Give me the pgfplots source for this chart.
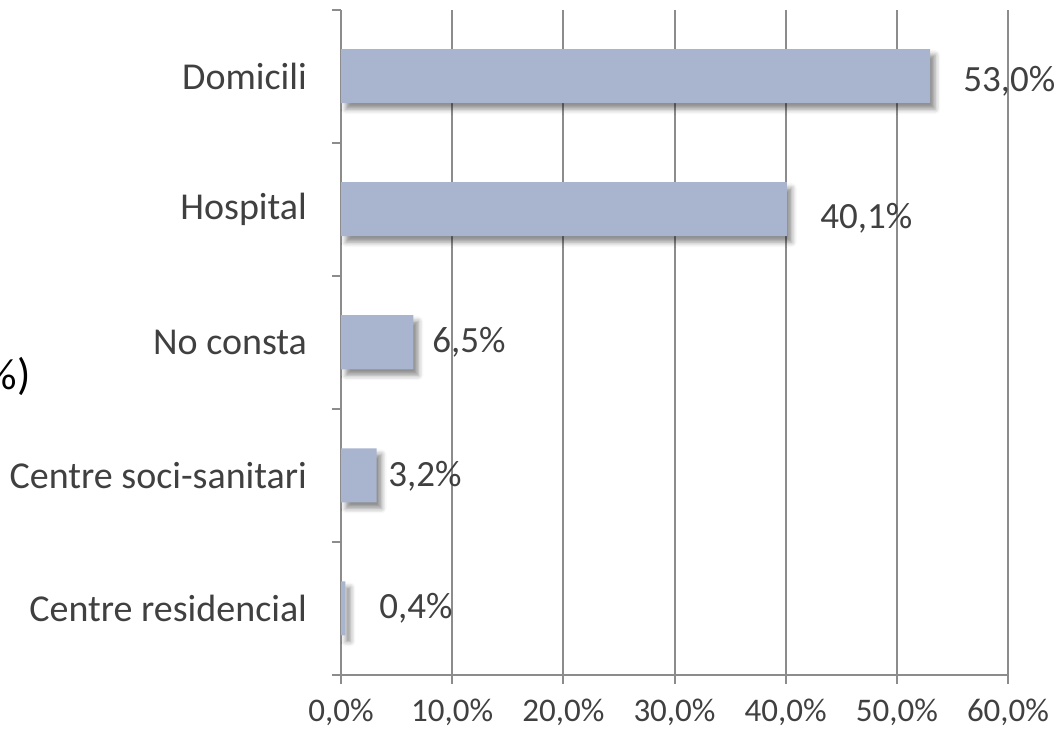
\documentclass[border=0pt]{standalone}
\usepackage{fontspec}
\setmainfont{Carlito}
\usepackage{pgfplots}
\pgfplotsset{compat=1.18}
\usepackage{pgfplotstable}
\usetikzlibrary{shadows.blur}
\definecolor{barcol}{HTML}{A9B4CE}
\definecolor{gridgrey}{HTML}{8C8C8C}
\definecolor{txt}{HTML}{404040}

\pgfplotstableread{
y val lx ly label
0 0.4 3.42 0.0 0,4\%
1 3.2 4.23 0.996 3,2\%
2 6.5 8.19 2.0 6,5\%
3 40.1 43.09 2.93 40,1\%
4 53.0 55.95 3.96 53,0\%
}\data

\begin{document}
\begin{tikzpicture}
\useasboundingbox (0,0) rectangle (529.5pt,365pt);
\node[anchor=east, font=\fontsize{22pt}{26pt}\selectfont, inner sep=0pt] at (15.5pt,177pt) {\%)};
\begin{axis}[
  at={(170.5pt,27.5pt)}, anchor=south west,
  scale only axis, width=333.5pt, height=332.75pt,
  xmin=0, xmax=60, ymin=-0.5, ymax=4.5,
  axis x line=bottom, axis y line=left,
  axis line style={-, draw=gridgrey, line width=1pt},
  xtick={0,10,...,60},
  xticklabels={{0,0\%},{10,0\%},{20,0\%},{30,0\%},{40,0\%},{50,0\%},{60,0\%}},
  ytick={-0.5,0.5,1.5,2.5,3.5,4.5},
  y tick label as interval,
  yticklabels={Centre residencial,Centre soci-sanitari,No consta,Hospital,Domicili},
  tick align=outside, major tick length=4.5pt,
  tick style={draw=gridgrey, line width=1pt},
  xmajorgrids, ymajorgrids=false,
  major grid style={draw=gridgrey, line width=1pt},
  ticklabel style={text=txt},
  xticklabel style={font=\fontsize{16.5pt}{19pt}\selectfont, yshift=-4pt},
  yticklabel style={font=\fontsize{19pt}{22pt}\selectfont, xshift=-9pt},
  clip=false,
]
\addplot[xbar, bar width=0.406, fill=barcol, draw=none,
  blur shadow={shadow xshift=2.5pt, shadow yshift=-3pt, shadow blur radius=2.5pt, shadow opacity=45}]
  table[x=val, y=y] {\data};
\addplot[draw=none, mark=none, nodes near coords, point meta=explicit symbolic,
  every node near coord/.append style={anchor=west, inner sep=0pt, text=txt,
    font=\fontsize{18.5pt}{21pt}\selectfont}]
  table[x=lx, y=ly, meta=label] {\data};
\end{axis}
\end{tikzpicture}
\end{document}
